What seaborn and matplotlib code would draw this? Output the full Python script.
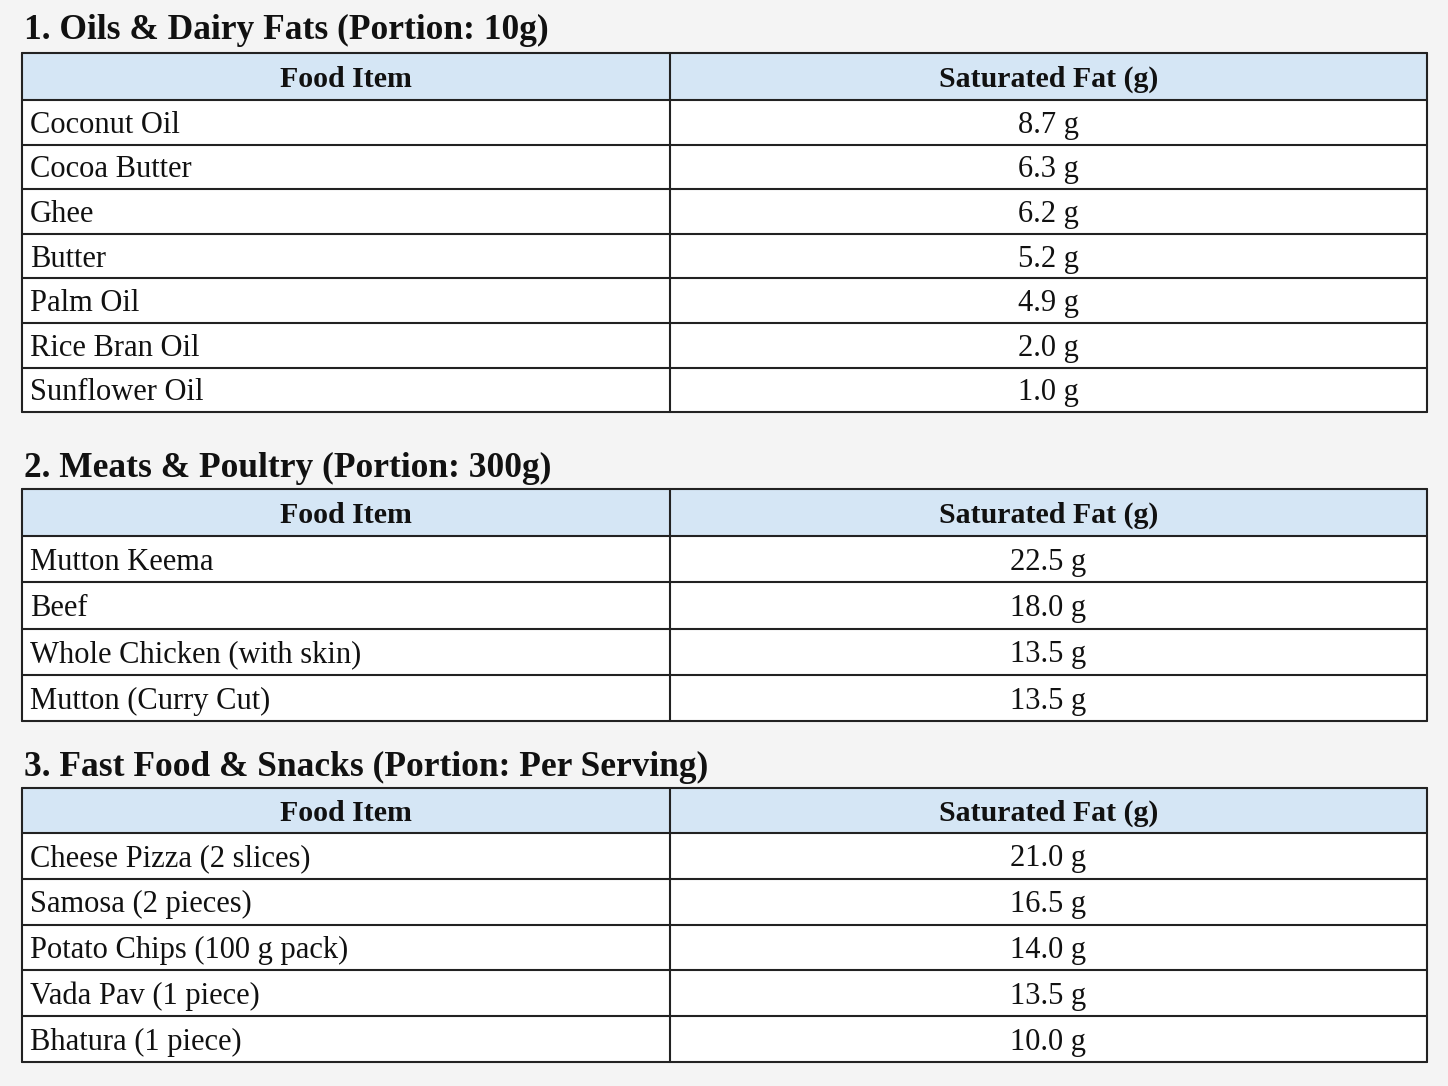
import matplotlib
matplotlib.use("Agg")
import matplotlib.pyplot as plt
import seaborn as sns

sns.set_theme(style="white")
plt.rcParams['font.family'] = ['Liberation Serif', 'DejaVu Serif']

# data
titles = ["1. Oils & Dairy Fats (Portion: 10g)",
          "2. Meats & Poultry (Portion: 300g)",
          "3. Fast Food & Snacks (Portion: Per Serving)"]
headers = ["Food Item", "Saturated Fat (g)"]
oils_items = ["Coconut Oil", "Cocoa Butter", "Ghee", "Butter", "Palm Oil", "Rice Bran Oil", "Sunflower Oil"]
oils_fat = [8.7, 6.3, 6.2, 5.2, 4.9, 2.0, 1.0]
meat_items = ["Mutton Keema", "Beef", "Whole Chicken (with skin)", "Mutton (Curry Cut)"]
meat_fat = [22.5, 18.0, 13.5, 13.5]
snack_items = ["Cheese Pizza (2 slices)", "Samosa (2 pieces)", "Potato Chips (100 g pack)",
               "Vada Pav (1 piece)", "Bhatura (1 piece)"]
snack_fat = [21.0, 16.5, 14.0, 13.5, 10.0]

sections = [(oils_items, oils_fat), (meat_items, meat_fat), (snack_items, snack_fat)]
# layout in pixels: title y, header top, header bottom, row height
layout = [(30, 53, 100, 44.6), (468, 489, 536, 46.3), (767, 788, 833, 45.8)]

fig = plt.figure(figsize=(14.48, 10.86), dpi=100)
fig.patch.set_facecolor("#f4f4f4")
ax = fig.add_axes([0, 0, 1, 1])
ax.set_xlim(0, 1448)
ax.set_ylim(1086, 0)
ax.axis("off")

left, mid, right = 22, 670, 1427
for (items, fats), title, (ty, htop, hbot, rh) in zip(sections, titles, layout):
    ax.text(24, ty, title, fontsize=25.5, fontweight="bold", va="center", ha="left", color="#111")
    bottom = hbot + rh * len(items)
    ax.add_patch(plt.Rectangle((left, htop), right - left, hbot - htop, facecolor="#d5e6f5", edgecolor="none"))
    ax.add_patch(plt.Rectangle((left, hbot), right - left, bottom - hbot, facecolor="white", edgecolor="none"))
    hy = (htop + hbot) / 2 + 3
    ax.text((left + mid) / 2, hy, headers[0], fontsize=21.5, fontweight="bold", ha="center", va="center", color="#111")
    ax.text((mid + right) / 2, hy, headers[1], fontsize=21.5, fontweight="bold", ha="center", va="center", color="#111")
    ys = [htop, hbot] + [hbot + rh * (i + 1) for i in range(len(items))]
    for y in ys:
        ax.plot([left, right], [y, y], color="#222", lw=1.5)
    for x in (left, mid, right):
        ax.plot([x, x], [htop, bottom], color="#222", lw=1.5)
    for i, (name, val) in enumerate(zip(items, fats)):
        yc = hbot + rh * (i + 0.5) + 3
        ax.text(30, yc, name, fontsize=22, ha="left", va="center", color="#111")
        ax.text((mid + right) / 2, yc, f"{val:.1f} g", fontsize=22, ha="center", va="center", color="#111")

fig.savefig("out.png", dpi=100, facecolor=fig.get_facecolor())
